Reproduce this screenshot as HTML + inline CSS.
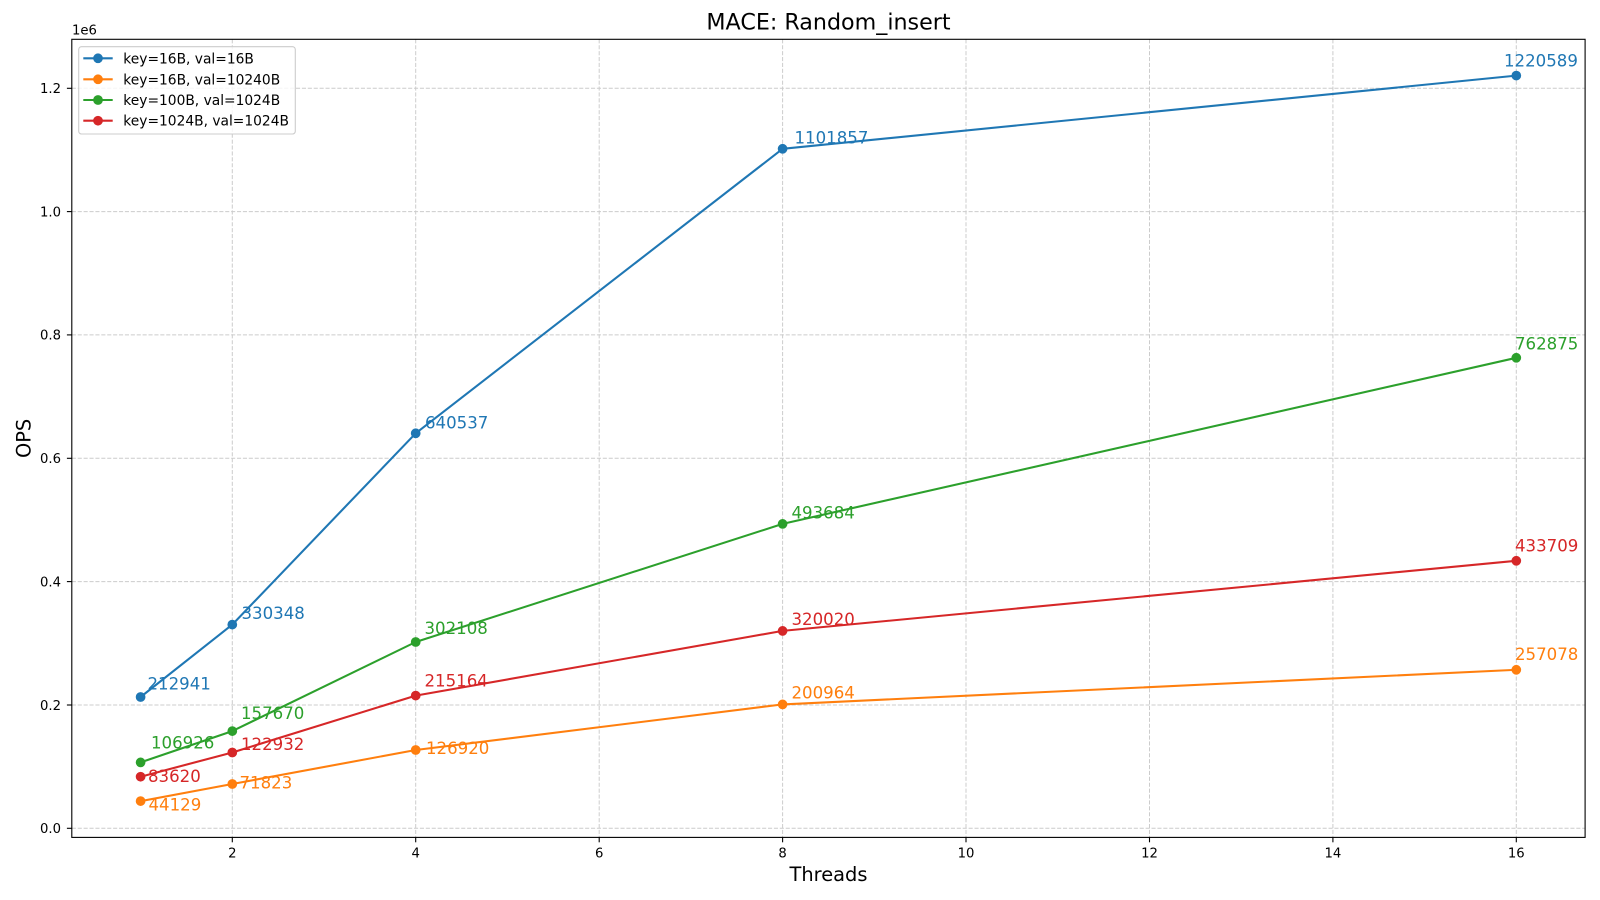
<!DOCTYPE html>
<html>
<head>
<meta charset="utf-8">
<style>
html,body{margin:0;padding:0;background:#fff;}
svg{display:block;}
text{font-family:"DejaVu Sans","Liberation Sans",sans-serif;}
</style>
</head>
<body>
<svg width="1600" height="900" viewBox="0 0 1600 900" xmlns="http://www.w3.org/2000/svg">
<rect x="0" y="0" width="1600" height="900" fill="#ffffff"/>

<!-- grid -->
<g stroke="#cccccc" stroke-width="1" stroke-dasharray="4.1,1.8" fill="none">
  <line x1="232.3" y1="39.3" x2="232.3" y2="837.4"/>
  <line x1="415.7" y1="39.3" x2="415.7" y2="837.4"/>
  <line x1="599.2" y1="39.3" x2="599.2" y2="837.4"/>
  <line x1="782.6" y1="39.3" x2="782.6" y2="837.4"/>
  <line x1="966.0" y1="39.3" x2="966.0" y2="837.4"/>
  <line x1="1149.5" y1="39.3" x2="1149.5" y2="837.4"/>
  <line x1="1332.9" y1="39.3" x2="1332.9" y2="837.4"/>
  <line x1="1516.3" y1="39.3" x2="1516.3" y2="837.4"/>
  <line x1="71.8" y1="828.3" x2="1585.1" y2="828.3"/>
  <line x1="71.8" y1="705.0" x2="1585.1" y2="705.0"/>
  <line x1="71.8" y1="581.6" x2="1585.1" y2="581.6"/>
  <line x1="71.8" y1="458.3" x2="1585.1" y2="458.3"/>
  <line x1="71.8" y1="334.9" x2="1585.1" y2="334.9"/>
  <line x1="71.8" y1="211.6" x2="1585.1" y2="211.6"/>
  <line x1="71.8" y1="88.3" x2="1585.1" y2="88.3"/>
</g>

<!-- series -->
<g fill="none" stroke-width="2.08" stroke-linejoin="round" stroke-linecap="square">
  <polyline stroke="#1f77b4" points="140.6,697.0 232.3,624.6 415.7,433.3 782.6,148.8 1516.3,75.6"/>
  <polyline stroke="#ff7f0e" points="140.6,801.1 232.3,784.0 415.7,750.0 782.6,704.4 1516.3,669.8"/>
  <polyline stroke="#2ca02c" points="140.6,762.4 232.3,731.1 415.7,642.0 782.6,523.9 1516.3,357.8"/>
  <polyline stroke="#d62728" points="140.6,776.7 232.3,752.5 415.7,695.6 782.6,630.9 1516.3,560.8"/>
</g>
<g stroke-width="1.39">
  <g fill="#1f77b4" stroke="#1f77b4">
    <circle cx="140.6" cy="697.0" r="4.17"/><circle cx="232.3" cy="624.6" r="4.17"/><circle cx="415.7" cy="433.3" r="4.17"/><circle cx="782.6" cy="148.8" r="4.17"/><circle cx="1516.3" cy="75.6" r="4.17"/>
  </g>
  <g fill="#ff7f0e" stroke="#ff7f0e">
    <circle cx="140.6" cy="801.1" r="4.17"/><circle cx="232.3" cy="784.0" r="4.17"/><circle cx="415.7" cy="750.0" r="4.17"/><circle cx="782.6" cy="704.4" r="4.17"/><circle cx="1516.3" cy="669.8" r="4.17"/>
  </g>
  <g fill="#2ca02c" stroke="#2ca02c">
    <circle cx="140.6" cy="762.4" r="4.17"/><circle cx="232.3" cy="731.1" r="4.17"/><circle cx="415.7" cy="642.0" r="4.17"/><circle cx="782.6" cy="523.9" r="4.17"/><circle cx="1516.3" cy="357.8" r="4.17"/>
  </g>
  <g fill="#d62728" stroke="#d62728">
    <circle cx="140.6" cy="776.7" r="4.17"/><circle cx="232.3" cy="752.5" r="4.17"/><circle cx="415.7" cy="695.6" r="4.17"/><circle cx="782.6" cy="630.9" r="4.17"/><circle cx="1516.3" cy="560.8" r="4.17"/>
  </g>
</g>

<!-- annotations -->
<g font-size="16.6">
  <g fill="#1f77b4">
    <text x="147.5" y="689.3">212941</text>
    <text x="241.5" y="619">330348</text>
    <text x="425" y="428.3">640537</text>
    <text x="794.5" y="143.3">1101857</text>
    <text x="1504" y="66.7">1220589</text>
  </g>
  <g fill="#ff7f0e">
    <text x="148.5" y="810.7">44129</text>
    <text x="239.5" y="788.3">71823</text>
    <text x="426" y="754">126920</text>
    <text x="791.5" y="698.3">200964</text>
    <text x="1515" y="660">257078</text>
  </g>
  <g fill="#2ca02c">
    <text x="151" y="748.3">106926</text>
    <text x="241" y="719">157670</text>
    <text x="424.5" y="634">302108</text>
    <text x="791.5" y="518.3">493684</text>
    <text x="1515" y="349.3">762875</text>
  </g>
  <g fill="#d62728">
    <text x="148" y="782">83620</text>
    <text x="241" y="750">122932</text>
    <text x="424.5" y="686.7">215164</text>
    <text x="791.5" y="625">320020</text>
    <text x="1515" y="551.7">433709</text>
  </g>
</g>

<!-- spines -->
<rect x="71.8" y="39.3" width="1513.3" height="798.1" fill="none" stroke="#000" stroke-width="1.1"/>

<!-- ticks -->
<g stroke="#000" stroke-width="1.1">
  <line x1="232.3" y1="837.4" x2="232.3" y2="842.3"/>
  <line x1="415.7" y1="837.4" x2="415.7" y2="842.3"/>
  <line x1="599.2" y1="837.4" x2="599.2" y2="842.3"/>
  <line x1="782.6" y1="837.4" x2="782.6" y2="842.3"/>
  <line x1="966.0" y1="837.4" x2="966.0" y2="842.3"/>
  <line x1="1149.5" y1="837.4" x2="1149.5" y2="842.3"/>
  <line x1="1332.9" y1="837.4" x2="1332.9" y2="842.3"/>
  <line x1="1516.3" y1="837.4" x2="1516.3" y2="842.3"/>
  <line x1="66.9" y1="828.3" x2="71.8" y2="828.3"/>
  <line x1="66.9" y1="705.0" x2="71.8" y2="705.0"/>
  <line x1="66.9" y1="581.6" x2="71.8" y2="581.6"/>
  <line x1="66.9" y1="458.3" x2="71.8" y2="458.3"/>
  <line x1="66.9" y1="334.9" x2="71.8" y2="334.9"/>
  <line x1="66.9" y1="211.6" x2="71.8" y2="211.6"/>
  <line x1="66.9" y1="88.3" x2="71.8" y2="88.3"/>
</g>
<g font-size="13.2" fill="#000" text-anchor="middle">
  <text x="232.3" y="857.6">2</text>
  <text x="415.7" y="857.6">4</text>
  <text x="599.2" y="857.6">6</text>
  <text x="782.6" y="857.6">8</text>
  <text x="966.0" y="857.6">10</text>
  <text x="1149.5" y="857.6">12</text>
  <text x="1332.9" y="857.6">14</text>
  <text x="1516.3" y="857.6">16</text>
</g>
<g font-size="13.2" fill="#000" text-anchor="end">
  <text x="61" y="833.1">0.0</text>
  <text x="61" y="709.8">0.2</text>
  <text x="61" y="586.4">0.4</text>
  <text x="61" y="463.1">0.6</text>
  <text x="61" y="339.7">0.8</text>
  <text x="61" y="216.4">1.0</text>
  <text x="61" y="93.1">1.2</text>
</g>
<text x="72" y="34.5" font-size="13.2" fill="#000">1e6</text>

<!-- labels -->
<text x="828.5" y="29.5" font-size="22.2" fill="#000" text-anchor="middle">MACE: Random_insert</text>
<text x="828.5" y="881" font-size="19.4" fill="#000" text-anchor="middle">Threads</text>
<text transform="translate(30.5,438.4) rotate(-90)" x="0" y="0" font-size="19.4" fill="#000" text-anchor="middle">OPS</text>

<!-- legend -->
<rect x="78.7" y="46.7" width="216.6" height="87.3" rx="2.8" ry="2.8" fill="#ffffff" fill-opacity="0.8" stroke="#cccccc" stroke-width="1.1"/>
<g stroke-width="2.08">
  <line x1="83.3" y1="58.3" x2="112.7" y2="58.3" stroke="#1f77b4"/>
  <line x1="83.3" y1="79.3" x2="112.7" y2="79.3" stroke="#ff7f0e"/>
  <line x1="83.3" y1="100" x2="112.7" y2="100" stroke="#2ca02c"/>
  <line x1="83.3" y1="120.7" x2="112.7" y2="120.7" stroke="#d62728"/>
</g>
<g stroke-width="1.39">
  <circle cx="98" cy="58.3" r="4.17" fill="#1f77b4" stroke="#1f77b4"/>
  <circle cx="98" cy="79.3" r="4.17" fill="#ff7f0e" stroke="#ff7f0e"/>
  <circle cx="98" cy="100" r="4.17" fill="#2ca02c" stroke="#2ca02c"/>
  <circle cx="98" cy="120.7" r="4.17" fill="#d62728" stroke="#d62728"/>
</g>
<g font-size="13.8" fill="#000">
  <text x="123.3" y="63.3">key=16B, val=16B</text>
  <text x="123.3" y="84.3">key=16B, val=10240B</text>
  <text x="123.3" y="105">key=100B, val=1024B</text>
  <text x="123.3" y="125.7">key=1024B, val=1024B</text>
</g>
</svg>
</body>
</html>
